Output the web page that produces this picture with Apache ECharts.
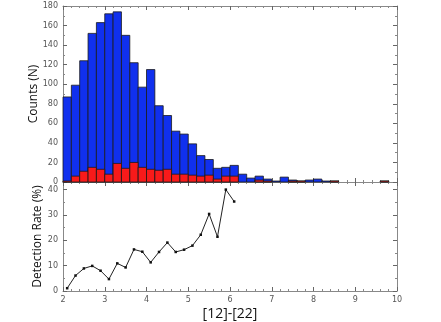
<!DOCTYPE html>
<html>
<head>
<meta charset="utf-8">
<script src="https://cdn.jsdelivr.net/npm/echarts@6/dist/echarts.min.js"></script>
<style>
  html, body { margin: 0; padding: 0; background: #fff; }
  #chart { width: 441px; height: 322px; }
</style>
</head>
<body>
<div id="chart"></div>
<script>
// bin edges of the [12]-[22] histogram (width 0.2)
const binStart = [2.0, 2.2, 2.4, 2.6, 2.8, 3.0, 3.2, 3.4, 3.6, 3.8,
                  4.0, 4.2, 4.4, 4.6, 4.8, 5.0, 5.2, 5.4, 5.6, 5.8,
                  6.0, 6.2, 6.4, 6.6, 6.8, 7.0, 7.2, 7.4, 7.6, 7.8,
                  8.0, 8.2, 8.4, 8.6, 8.8, 9.0, 9.2, 9.4, 9.6];
const binWidth = 0.2;
// all counts (blue) and detected counts (red)
const totalCounts = [87, 99, 124, 152, 163, 172, 174, 150, 122, 97,
                     115, 78, 68, 52, 49, 39, 27, 23, 14, 15,
                     17, 8, 4, 6, 3, 1, 5, 2, 1, 2,
                     3, 1, 1, 0, 0, 0, 0, 0, 1];
const detectedCounts = [1, 6, 11, 15, 13, 8, 19, 14, 20, 15,
                        13, 12, 13, 8, 8, 7, 6, 7, 3, 6,
                        6, 0, 0, 2, 1, 0, 0, 1, 1, 0,
                        0, 0, 1, 0, 0, 0, 0, 0, 1];
// detection rate (%) at bin centres
const rateX = [2.1, 2.3, 2.5, 2.7, 2.9, 3.1, 3.3, 3.5, 3.7, 3.9,
               4.1, 4.3, 4.5, 4.7, 4.9, 5.1, 5.3, 5.5, 5.7, 5.9, 6.1];
const rateY = [1.1, 6.1, 8.9, 9.9, 8.0, 4.7, 10.9, 9.3, 16.4, 15.5,
               11.3, 15.4, 19.1, 15.4, 16.3, 17.9, 22.2, 30.4, 21.4, 40.0, 35.3];

const chart = echarts.init(document.getElementById('chart'));

const histData = (vals) => binStart.map((s, i) => [s, s + binWidth, vals[i]]);

function renderBar(params, api) {
  const v = api.value(2);
  if (!v) return null;
  const p0 = api.coord([api.value(0), v]);
  const p1 = api.coord([api.value(1), 0]);
  return {
    type: 'rect',
    shape: { x: p0[0], y: p0[1], width: p1[0] - p0[0], height: p1[1] - p0[1] },
    style: { fill: api.visual('color'), stroke: '#1a1a1a', lineWidth: 0.8 }
  };
}

const tickFont = { fontFamily: 'DejaVu Sans', fontSize: 8, color: '#555' };
const lineCol = '#888';

function xAx(grid, pos, labels) {
  return {
    type: 'value', gridIndex: grid, position: pos, min: 2, max: 10, interval: 1,
    axisLine: { show: true, onZero: false, lineStyle: { color: lineCol, width: 1 } },
    axisTick: { show: true, inside: true, length: 4, lineStyle: { color: '#666' } },
    minorTick: { show: true, splitNumber: 5, length: 2, lineStyle: { color: '#888' } },
    axisLabel: labels ? Object.assign({ margin: 5 }, tickFont) : { show: false },
    splitLine: { show: false }
  };
}

function yAx(grid, pos, max, labels, nameTxt, gap) {
  const step = grid === 0 ? 20 : 10;
  const ax = {
    type: 'value', gridIndex: grid, position: pos, min: 0, max: max,
    interval: step,
    axisLine: { show: true, onZero: false, lineStyle: { color: lineCol, width: 1 } },
    axisTick: { show: true, inside: true, length: 4, lineStyle: { color: '#666' } },
    minorTick: { show: true, splitNumber: 2, length: 2, lineStyle: { color: '#888' } },
    axisLabel: labels ? Object.assign({
      margin: 5,
      formatter: (v) => (v % step === 0 ? String(v) : '')
    }, tickFont) : { show: false },
    splitLine: { show: false }
  };
  if (nameTxt) {
    ax.name = nameTxt;
    ax.nameLocation = 'middle';
    ax.nameGap = gap;
    ax.nameMoveOverlap = false;
    ax.nameTextStyle = { fontFamily: 'Open Sans', fontSize: 12, color: '#111' };
  }
  return ax;
}

const option = {
  animation: false,
  backgroundColor: '#fff',
  grid: [
    { left: 63, right: 44, top: 6, height: 176 },
    { left: 63, right: 44, top: 182, height: 118 }
  ],
  xAxis: [
    xAx(0, 'bottom', false),
    xAx(0, 'top', false),
    Object.assign(xAx(1, 'bottom', true), {
      name: '[12]-[22]', nameLocation: 'middle', nameGap: 16,
      nameTextStyle: { fontFamily: 'Open Sans', fontSize: 14, color: '#111' }
    }),
    xAx(1, 'top', false)
  ],
  yAxis: [
    yAx(0, 'left', 180, true, 'Counts (N)', 23),
    yAx(0, 'right', 180, false),
    yAx(1, 'left', 43, true, 'Detection Rate (%)', 19),
    yAx(1, 'right', 43, false)
  ],
  series: [
    {
      type: 'custom', name: 'all', xAxisIndex: 0, yAxisIndex: 0,
      renderItem: renderBar, itemStyle: { color: '#1030ee' },
      encode: { x: [0, 1], y: 2 },
      data: histData(totalCounts)
    },
    {
      type: 'custom', name: 'detected', xAxisIndex: 0, yAxisIndex: 0,
      renderItem: renderBar, itemStyle: { color: '#f81a1a' },
      encode: { x: [0, 1], y: 2 },
      data: histData(detectedCounts)
    },
    {
      type: 'line', xAxisIndex: 2, yAxisIndex: 2,
      data: rateX.map((x, i) => [x, rateY[i]]),
      symbol: 'rect', symbolSize: 2.5, showSymbol: true,
      lineStyle: { color: '#222', width: 1 },
      itemStyle: { color: '#111' }
    }
  ]
};

chart.setOption(option);
</script>
</body>
</html>
